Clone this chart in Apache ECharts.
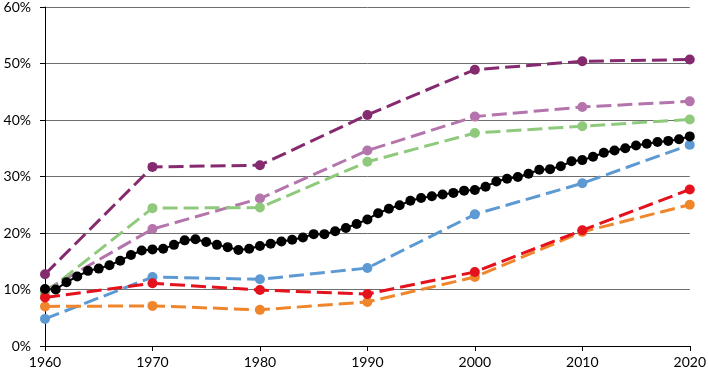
<!DOCTYPE html>
<html><head><meta charset="utf-8">
<script src="https://cdn.jsdelivr.net/npm/echarts@6/dist/echarts.min.js"></script>
<style>html,body{margin:0;padding:0;background:#fff}#c{width:709px;height:372px}</style>
</head><body><div id="c"></div>
<script>
const decades = [1960, 1970, 1980, 1990, 2000, 2010, 2020];
const darkPurple = [12.7, 31.7, 32.0, 40.9, 48.9, 50.4, 50.7];
const lightPurple = [9.8, 20.7, 26.1, 34.6, 40.6, 42.3, 43.3];
const green = [9.4, 24.4, 24.5, 32.6, 37.7, 38.9, 40.1];
const blue = [4.8, 12.2, 11.8, 13.8, 23.3, 28.8, 35.6];
const orange = [7.0, 7.1, 6.4, 7.8, 12.2, 20.2, 25.0];
const red = [8.6, 11.1, 9.9, 9.2, 13.1, 20.5, 27.7];
const years = [];
for (let y = 1960; y <= 2020; y++) years.push(y);
const annual = [10.1, 10.0, 11.3, 12.3, 13.3, 13.7, 14.3, 15.1, 16.1, 16.9,
  17.1, 17.2, 17.9, 18.7, 18.9, 18.4, 17.9, 17.5, 17.0, 17.2,
  17.7, 18.1, 18.5, 18.8, 19.2, 19.8, 19.8, 20.3, 20.9, 21.6,
  22.4, 23.5, 24.3, 24.9, 25.7, 26.2, 26.5, 26.8, 27.1, 27.5,
  27.6, 28.2, 29.1, 29.6, 29.9, 30.5, 31.2, 31.3, 31.8, 32.7,
  32.9, 33.5, 34.2, 34.6, 35.0, 35.5, 35.8, 36.1, 36.3, 36.6, 37.1];
const yTicks = [0, 10, 20, 30, 40, 50, 60];

const pair = (xs, ys) => xs.map((x, i) => [x, ys[i]]);
const dashed = (name, data, color) => ({
  name, type: 'line', data: pair(decades, data), symbol: 'circle', symbolSize: 10,
  itemStyle: { color }, lineStyle: { color, width: 3, type: [15, 6] }, animation: false
});

const chart = echarts.init(document.getElementById('c'));
chart.setOption({
  animation: false,
  grid: { left: 45, right: 17, top: 6, bottom: 26 },
  xAxis: {
    type: 'value', min: 1960, max: 2020, interval: 10,
    axisLine: { show: true, lineStyle: { color: '#000', width: 1 } },
    axisTick: { show: true, length: 5, lineStyle: { color: '#000' } },
    axisLabel: { color: '#000', fontSize: 14, fontFamily: 'Lato, sans-serif', margin: 9, formatter: v => String(v) },
    splitLine: { show: false }
  },
  yAxis: {
    type: 'value', min: yTicks[0], max: yTicks[yTicks.length - 1], interval: 10,
    axisLine: { show: true, lineStyle: { color: '#000', width: 1 } },
    axisTick: { show: true, length: 5, lineStyle: { color: '#000' } },
    axisLabel: { color: '#000', fontSize: 14, fontFamily: 'Lato, sans-serif', margin: 14, formatter: '{value}%' },
    splitLine: { show: true, lineStyle: { color: '#6e6e6e', width: 1 } }
  },
  series: [
    dashed('darkPurple', darkPurple, '#862a70'),
    dashed('lightPurple', lightPurple, '#b474ac'),
    dashed('green', green, '#8fca7c'),
    dashed('blue', blue, '#5d9ad4'),
    dashed('orange', orange, '#f0862c'),
    dashed('red', red, '#e3121c'),
    {
      name: 'annual', type: 'line', data: pair(years, annual), symbol: 'circle', symbolSize: 10,
      itemStyle: { color: '#000' }, lineStyle: { color: '#000', width: 2 }
    }
  ]
});
</script></body></html>
